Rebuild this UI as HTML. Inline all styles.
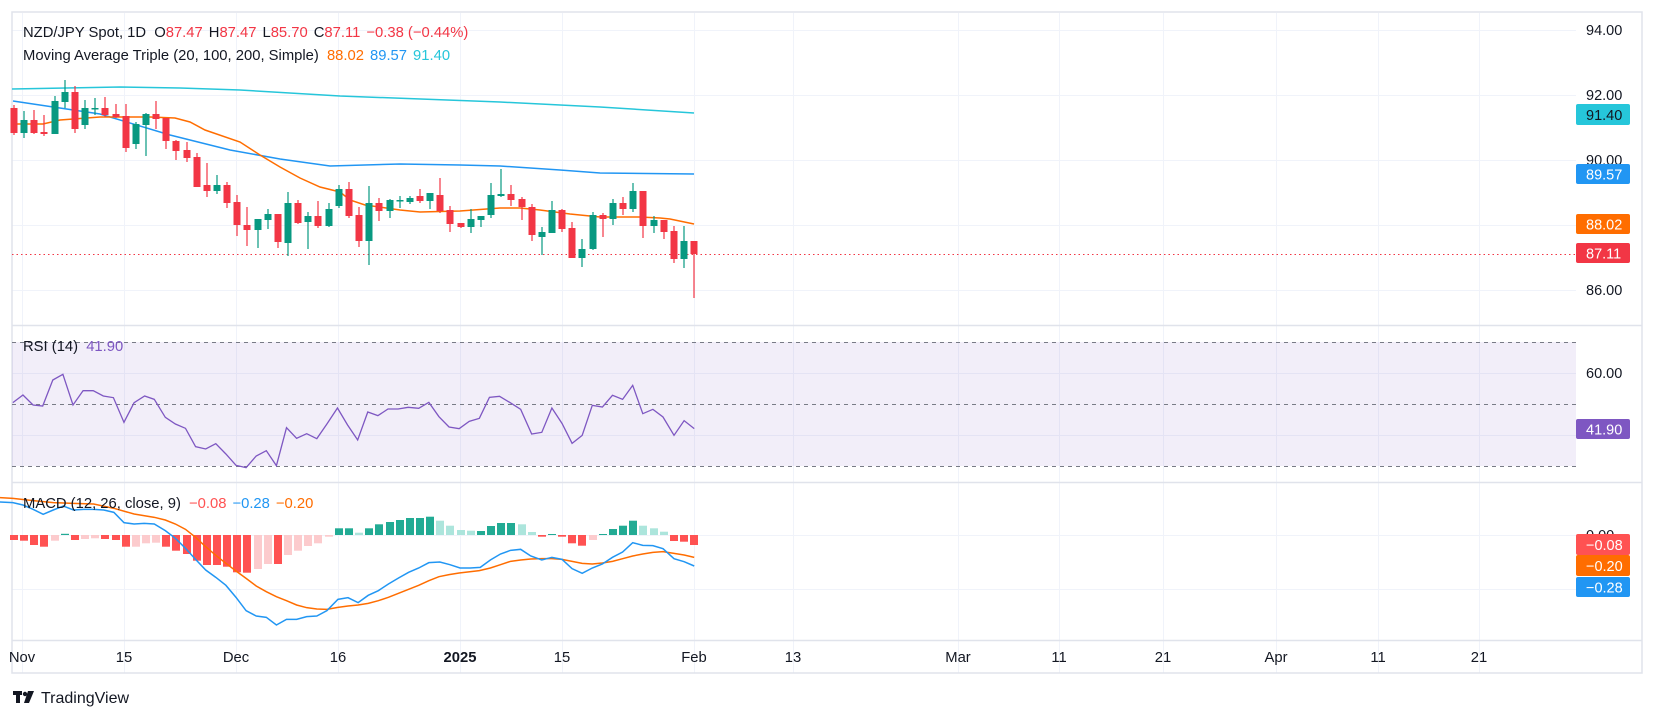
<!DOCTYPE html>
<html><head><meta charset="utf-8"><style>
body{margin:0;background:#fff;}
svg{display:block;font-family:"Liberation Sans",sans-serif;}
</style></head><body>
<svg width="1654" height="718" viewBox="0 0 1654 718" xmlns="http://www.w3.org/2000/svg">
<rect width="1654" height="718" fill="#fff"/>
<g stroke="#f0f3fa" stroke-width="1">
<path d="M22.5 13V673M124.5 13V673M236.5 13V673M338.5 13V673M460.5 13V673M562.5 13V673M694.5 13V673M793.5 13V673M958.5 13V673M1059.5 13V673M1163.5 13V673M1276.5 13V673M1378.5 13V673M1479.5 13V673"/>
<path d="M12 30.5H1576M12 95.5H1576M12 160.5H1576M12 225.5H1576M12 290.5H1576M12 373.5H1576M12 435.5H1576M12 535.5H1576M12 589.5H1576"/>
</g>
<g fill="none" stroke="#e0e3eb" stroke-width="1.5">
<rect x="12" y="12" width="1630" height="661"/>
<path d="M12 325.5H1642M12 482.5H1642M12 640.5H1642"/>
</g>
<polyline fill="none" stroke="#26C6DA" stroke-width="1.5" points="12,89 120,87 180,88 240,90 340,96 500,102 600,107 694,113"/>
<polyline fill="none" stroke="#2196F3" stroke-width="1.5" points="13,101 100,114 170,135 230,150 280,159 330,166 400,164 460,165 500,166 560,170 600,173 694,174"/>
<polyline fill="none" stroke="#FF6D00" stroke-width="1.5" points="13,124 43,124 60,120 100,117 150,117 175,118 190,122 205,130 240,142 260,155 280,167 300,178 320,187 340,192 350,200 365,205 400,210 420,212 460,211 500,208 520,208 540,210 570,214 600,217 640,217 660,218 670,219 694,224"/>
<path d="M12 254.5H1576" stroke="#F23645" stroke-width="1" stroke-dasharray="1.5,3"/>
<g stroke="#089981" stroke-width="1.2">
<path d="M24 111V138M55 96V134M65 80V108M85 100V129M95 98V115M136 122V149M146 113V156M217 175V194M258 219V248M268 209V229M288 192V256M308 212V249M329 203V227M339 185V208M369 186V265M390 199V218M400 196V208M410 196V204M430 193V209M471 209V233M481 216V227M491 183V218M501 169V197M542 227V255M552 201V233M582 239V267M593 212V250M613 199V225M633 183V212M654 216V233M684 226V268"/>
</g>
<g fill="#089981">
<rect x="20.5" y="120" width="7" height="13"/><rect x="51.5" y="101" width="7" height="33"/><rect x="61.5" y="92" width="7" height="10"/><rect x="81.5" y="108" width="7" height="17"/><rect x="91.5" y="108" width="7" height="1.5"/><rect x="132.5" y="124" width="7" height="20"/><rect x="142.5" y="114" width="7" height="11"/><rect x="213.5" y="185" width="7" height="6"/><rect x="254.5" y="219" width="7" height="11"/><rect x="264.5" y="214" width="7" height="6"/><rect x="284.5" y="203" width="7" height="40"/><rect x="304.5" y="216" width="7" height="6"/><rect x="325.5" y="209" width="7" height="17"/><rect x="335.5" y="189" width="7" height="17"/><rect x="365.5" y="203" width="7" height="38"/><rect x="386.5" y="200" width="7" height="11"/><rect x="396.5" y="200" width="7" height="1.5"/><rect x="406.5" y="198" width="7" height="4"/><rect x="426.5" y="193" width="7" height="8"/><rect x="467.5" y="219" width="7" height="8"/><rect x="477.5" y="216" width="7" height="4"/><rect x="487.5" y="195" width="7" height="20"/><rect x="497.5" y="194" width="7" height="2"/><rect x="538.5" y="232" width="7" height="5"/><rect x="548.5" y="210" width="7" height="23"/><rect x="578.5" y="249" width="7" height="9"/><rect x="589.5" y="215" width="7" height="34"/><rect x="609.5" y="203" width="7" height="16"/><rect x="629.5" y="191" width="7" height="18"/><rect x="650.5" y="220" width="7" height="6"/><rect x="680.5" y="241" width="7" height="18"/>
</g>
<g stroke="#F23645" stroke-width="1.2">
<path d="M14 105V135M34 110V134M44 115V136M75 86V133M105 97V117M116 104V118M126 104V152M156 101V129M166 118V149M176 140V160M187 142V162M197 153V187M207 163V197M227 182V208M237 195V236M247 207V246M278 214V248M298 200V224M318 201V228M349 182V218M359 207V247M379 198V221M420 189V203M440 178V213M450 206V232M461 223V228M511 185V206M522 197V220M532 204V241M562 209V232M572 222V258M603 213V237M623 197V215M643 191V238M664 220V239M674 226V263M694 241V298"/>
</g>
<g fill="#F23645">
<rect x="10.5" y="108" width="7" height="25"/><rect x="30.5" y="120" width="7" height="13"/><rect x="40.5" y="132" width="7" height="2"/><rect x="71.5" y="92" width="7" height="37"/><rect x="101.5" y="108" width="7" height="7"/><rect x="112.5" y="114" width="7" height="3"/><rect x="122.5" y="116" width="7" height="32"/><rect x="152.5" y="114" width="7" height="5"/><rect x="162.5" y="118" width="7" height="23"/><rect x="172.5" y="141" width="7" height="10"/><rect x="183.5" y="150" width="7" height="8"/><rect x="193.5" y="157" width="7" height="30"/><rect x="203.5" y="185" width="7" height="6"/><rect x="223.5" y="185" width="7" height="18"/><rect x="233.5" y="202" width="7" height="23"/><rect x="243.5" y="225" width="7" height="5"/><rect x="274.5" y="214" width="7" height="28"/><rect x="294.5" y="203" width="7" height="20"/><rect x="314.5" y="216" width="7" height="10"/><rect x="345.5" y="189" width="7" height="27"/><rect x="355.5" y="215" width="7" height="26"/><rect x="375.5" y="203" width="7" height="8"/><rect x="416.5" y="196" width="7" height="5"/><rect x="436.5" y="195" width="7" height="16"/><rect x="446.5" y="210" width="7" height="14"/><rect x="457.5" y="223" width="7" height="4"/><rect x="507.5" y="194" width="7" height="6"/><rect x="518.5" y="199" width="7" height="8"/><rect x="528.5" y="207" width="7" height="28"/><rect x="558.5" y="210" width="7" height="19"/><rect x="568.5" y="228" width="7" height="30"/><rect x="599.5" y="215" width="7" height="4"/><rect x="619.5" y="203" width="7" height="6"/><rect x="639.5" y="191" width="7" height="35"/><rect x="660.5" y="220" width="7" height="12"/><rect x="670.5" y="231" width="7" height="28"/><rect x="690.5" y="241" width="7" height="13"/>
</g>
<g font-size="14.8" fill="#131722">
<text x="23" y="37">NZD/JPY Spot, 1D <tspan dx="4">O</tspan><tspan fill="#F23645">87.47</tspan><tspan dx="6">H</tspan><tspan fill="#F23645">87.47</tspan><tspan dx="6">L</tspan><tspan fill="#F23645">85.70</tspan><tspan dx="6">C</tspan><tspan fill="#F23645">87.11</tspan><tspan dx="6" fill="#F23645">−0.38 (−0.44%)</tspan></text>
<text x="23" y="60">Moving Average Triple (20, 100, 200, Simple) <tspan dx="4" fill="#FF6D00">88.02</tspan><tspan dx="6" fill="#2196F3">89.57</tspan><tspan dx="6" fill="#26C6DA">91.40</tspan></text>
</g>
<g font-size="14.5" fill="#131722">
<text x="1586" y="35">94.00</text><text x="1586" y="100">92.00</text><text x="1586" y="165">90.00</text><text x="1586" y="295">86.00</text>
</g>
<g font-size="14.5">
<rect x="1576" y="104" width="54" height="21" rx="2" fill="#26C6DA"/><text x="1586" y="120" fill="#131722">91.40</text>
<rect x="1576" y="164" width="54" height="20" rx="2" fill="#2196F3"/><text x="1586" y="179.5" fill="#fff">89.57</text>
<rect x="1576" y="214" width="54" height="20" rx="2" fill="#FF6D00"/><text x="1586" y="229.5" fill="#fff">88.02</text>
<rect x="1576" y="243" width="54" height="20" rx="2" fill="#F23645"/><text x="1586" y="258.5" fill="#fff">87.11</text>
</g>
<rect x="12" y="342" width="1564" height="124" fill="#7E57C2" fill-opacity="0.1"/>
<g stroke="#787B86" stroke-width="1" stroke-dasharray="4,4"><path d="M12 342.5H1576M12 404.5H1576M12 466.5H1576"/></g>
<polyline fill="none" stroke="#7E57C2" stroke-width="1.3" vector-effect="non-scaling-stroke" transform="translate(0,320) scale(0.45914,0.33333)" points="28,248 50,225 72,255 93,258 115,180 137,163 159,255 181,212 203,212 225,228 247,233 270,307 292,248 315,228 336,238 360,292 382,312 404,325 426,380 448,387 470,371 492,402 514,436 536,443 558,408 580,392 602,437 624,323 646,355 668,341 690,356 712,312 735,264 757,315 779,360 801,276 823,287 845,267 867,267 889,262 912,265 934,247 956,290 978,321 1000,326 1022,304 1044,295 1066,232 1088,229 1110,247 1134,268 1158,342 1180,337 1202,264 1224,310 1246,370 1268,346 1290,256 1312,261 1334,226 1356,238 1378,196 1400,281 1422,268 1444,291 1468,346 1490,302 1512,326"/>
<text x="23" y="351" font-size="14.8" fill="#131722">RSI (14) <tspan dx="4" fill="#7E57C2">41.90</tspan></text>
<text x="1586" y="378" font-size="14.5" fill="#131722">60.00</text>
<rect x="1576" y="419" width="54" height="20" rx="2" fill="#7E57C2"/><text x="1586" y="434.5" font-size="14.5" fill="#fff">41.90</text>
<g>
<rect x="10" y="535" width="8" height="5" fill="#FF5252"/><rect x="20" y="535" width="8" height="5.7" fill="#FF5252"/><rect x="30" y="535" width="8" height="10" fill="#FF5252"/><rect x="40" y="535" width="8" height="11.7" fill="#FF5252"/><rect x="51" y="535" width="8" height="5.7" fill="#FCCBCD"/><rect x="61" y="533.8" width="8" height="1.2" fill="#22AB94"/><rect x="71" y="535" width="8" height="5" fill="#FF5252"/><rect x="81" y="535" width="8" height="4" fill="#FCCBCD"/><rect x="91" y="535" width="8" height="3.3" fill="#FCCBCD"/><rect x="101" y="535" width="8" height="4" fill="#FF5252"/><rect x="112" y="535" width="8" height="5" fill="#FF5252"/><rect x="122" y="535" width="8" height="11.7" fill="#FF5252"/><rect x="132" y="535" width="8" height="11.7" fill="#FCCBCD"/><rect x="142" y="535" width="8" height="8.3" fill="#FCCBCD"/><rect x="152" y="535" width="8" height="7.7" fill="#FCCBCD"/><rect x="162" y="535" width="8" height="11.7" fill="#FF5252"/><rect x="172" y="535" width="8" height="15.7" fill="#FF5252"/><rect x="183" y="535" width="8" height="19" fill="#FF5252"/><rect x="193" y="535" width="8" height="25.7" fill="#FF5252"/><rect x="203" y="535" width="8" height="30" fill="#FF5252"/><rect x="213" y="535" width="8" height="30" fill="#FF5252"/><rect x="223" y="535" width="8" height="31.7" fill="#FF5252"/><rect x="233" y="535" width="8" height="37.3" fill="#FF5252"/><rect x="243" y="535" width="8" height="37.7" fill="#FF5252"/><rect x="254" y="535" width="8" height="34" fill="#FCCBCD"/><rect x="264" y="535" width="8" height="29" fill="#FCCBCD"/><rect x="274" y="535" width="8" height="29" fill="#FF5252"/><rect x="284" y="535" width="8" height="20" fill="#FCCBCD"/><rect x="294" y="535" width="8" height="15.7" fill="#FCCBCD"/><rect x="304" y="535" width="8" height="11" fill="#FCCBCD"/><rect x="314" y="535" width="8" height="8.3" fill="#FCCBCD"/><rect x="325" y="535" width="8" height="1.7" fill="#FCCBCD"/>
<rect x="335" y="528.3" width="8" height="6.7" fill="#22AB94"/><rect x="345" y="528.3" width="8" height="6.7" fill="#22AB94"/><rect x="355" y="532.7" width="8" height="2.3" fill="#ACE5DC"/><rect x="365" y="528.3" width="8" height="6.7" fill="#22AB94"/><rect x="375" y="524.3" width="8" height="10.7" fill="#22AB94"/><rect x="386" y="522" width="8" height="13" fill="#22AB94"/><rect x="396" y="520" width="8" height="15" fill="#22AB94"/><rect x="406" y="518" width="8" height="17" fill="#22AB94"/><rect x="416" y="518" width="8" height="17" fill="#22AB94"/><rect x="426" y="516.7" width="8" height="18.3" fill="#22AB94"/><rect x="436" y="520.7" width="8" height="14.3" fill="#ACE5DC"/><rect x="446" y="525.7" width="8" height="9.3" fill="#ACE5DC"/><rect x="457" y="530" width="8" height="5" fill="#ACE5DC"/><rect x="467" y="530.7" width="8" height="4.3" fill="#ACE5DC"/><rect x="477" y="531" width="8" height="4" fill="#22AB94"/><rect x="487" y="526" width="8" height="9" fill="#22AB94"/><rect x="497" y="523" width="8" height="12" fill="#22AB94"/><rect x="507" y="523" width="8" height="12" fill="#22AB94"/><rect x="518" y="524.3" width="8" height="10.7" fill="#ACE5DC"/><rect x="528" y="532" width="8" height="3" fill="#ACE5DC"/><rect x="538" y="535" width="8" height="1.7" fill="#FF5252"/><rect x="548" y="534" width="8" height="1" fill="#22AB94"/><rect x="558" y="535" width="8" height="1.7" fill="#FF5252"/><rect x="568" y="535" width="8" height="8.3" fill="#FF5252"/><rect x="578" y="535" width="8" height="10.7" fill="#FF5252"/><rect x="589" y="535" width="8" height="5" fill="#FCCBCD"/><rect x="599" y="534" width="8" height="1" fill="#22AB94"/><rect x="609" y="529" width="8" height="6" fill="#22AB94"/><rect x="619" y="525.7" width="8" height="9.3" fill="#22AB94"/><rect x="629" y="520.7" width="8" height="14.3" fill="#22AB94"/><rect x="639" y="525.7" width="8" height="9.3" fill="#ACE5DC"/><rect x="650" y="528.3" width="8" height="6.7" fill="#ACE5DC"/><rect x="660" y="531.7" width="8" height="3.3" fill="#ACE5DC"/><rect x="670" y="535" width="8" height="6" fill="#FF5252"/><rect x="680" y="535" width="8" height="6.7" fill="#FF5252"/><rect x="690" y="535" width="8" height="10" fill="#FF5252"/>
</g>
<polyline fill="none" stroke="#FF6D00" stroke-width="1.5" vector-effect="non-scaling-stroke" transform="translate(0,480) scale(0.45914,0.33333)" points="0,53 28,55 72,62 116,68 160,70 204,72 248,85 292,102 336,112 360,120 382,132 404,148 426,172 448,200 470,226 492,250 514,273 536,295 558,318 580,335 602,350 624,362 646,375 668,383 690,387 712,388 736,382 758,378 780,375 802,370 824,362 846,352 868,340 890,328 912,316 934,302 956,290 978,284 1000,279 1044,272 1068,264 1090,254 1112,244 1134,240 1156,237 1180,236 1202,236 1224,238 1246,244 1268,250 1290,252 1312,249 1334,244 1356,236 1378,228 1400,222 1422,217 1444,215 1468,220 1490,225 1512,232"/>
<polyline fill="none" stroke="#2196F3" stroke-width="1.5" vector-effect="non-scaling-stroke" transform="translate(0,480) scale(0.45914,0.33333)" points="0,66 28,68 50,75 72,88 94,103 116,90 138,78 160,90 182,88 204,88 226,90 248,97 270,128 292,132 314,130 336,132 360,152 382,175 404,205 426,238 448,270 470,292 492,316 514,352 536,392 558,408 580,412 602,435 624,418 646,418 668,410 690,408 712,392 736,358 758,353 780,368 802,346 824,332 846,312 868,294 890,277 912,264 934,248 958,246 980,254 1002,264 1024,264 1046,262 1068,240 1090,222 1112,211 1134,208 1156,228 1180,240 1202,232 1224,238 1246,266 1268,280 1290,264 1312,252 1334,232 1356,216 1378,188 1400,196 1422,197 1444,206 1468,236 1490,245 1512,258"/>
<text x="23" y="508" font-size="14.8" fill="#131722">MACD (12, 26, close, 9) <tspan dx="4" fill="#FF5252">−0.08</tspan><tspan dx="6" fill="#2196F3">−0.28</tspan><tspan dx="6" fill="#FF6D00">−0.20</tspan></text>
<text x="1586" y="540" font-size="14.5" fill="#131722">0.00</text>
<g font-size="14.5" fill="#fff">
<rect x="1576" y="534" width="54" height="21" rx="2" fill="#FF5252"/><text x="1586" y="550">−0.08</text>
<rect x="1576" y="555" width="54" height="21" rx="2" fill="#FF6D00"/><text x="1586" y="571">−0.20</text>
<rect x="1576" y="577" width="54" height="20" rx="2" fill="#2196F3"/><text x="1586" y="592.5">−0.28</text>
</g>
<g font-size="14.8" fill="#131722" text-anchor="middle">
<text x="22" y="662">Nov</text><text x="124" y="662">15</text><text x="236" y="662">Dec</text><text x="338" y="662">16</text><text x="460" y="662" font-weight="bold">2025</text><text x="562" y="662">15</text><text x="694" y="662">Feb</text><text x="793" y="662">13</text><text x="958" y="662">Mar</text><text x="1059" y="662">11</text><text x="1163" y="662">21</text><text x="1276" y="662">Apr</text><text x="1378" y="662">11</text><text x="1479" y="662">21</text>
</g>
<g fill="#131722">
<rect x="13" y="691" width="9" height="4"/><rect x="16" y="691" width="4" height="12"/><circle cx="25" cy="694" r="2.2"/><path d="M28 691H34L29 703H24Z"/>
</g>
<text x="41" y="703" font-size="16" fill="#131722">TradingView</text>
</svg>
</body></html>
